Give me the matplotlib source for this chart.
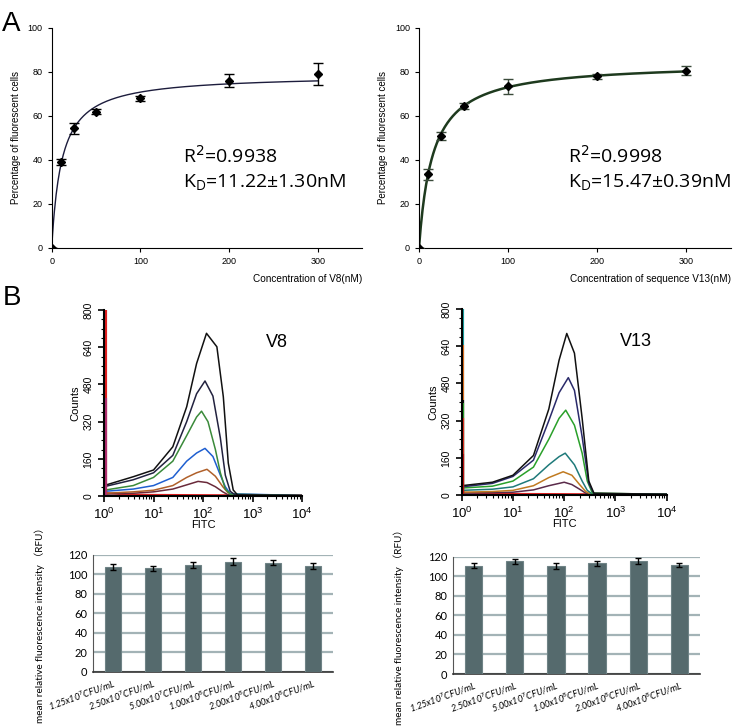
import numpy as np
import matplotlib
matplotlib.use("Agg")
import matplotlib.pyplot as plt
from matplotlib.ticker import MultipleLocator, LogLocator

plt.rcParams['font.family'] = ['Liberation Sans', 'DejaVu Sans']

###### Panel A data: binding saturation #####
conc = [0, 10, 25, 50, 100, 200, 300]
v8_pct = [0, 39, 54.5, 62, 68, 76, 79]
v8_err = [0, 1.5, 2.5, 1.0, 1.0, 3.0, 5.0]
v13_pct = [0, 33.5, 51, 64.5, 73.5, 78, 80.5]
v13_err = [0, 2.5, 1.8, 1.5, 3.5, 1.0, 2.0]
# fitted one-site binding parameters
v8_kd, v8_bmax = 11.22, 78.8
v13_kd, v13_bmax = 15.47, 84.4

###### Panel B data: flow cytometry histograms (log10 FITC, counts) #####
v8_curves = [
    ("#111111", [0, 0.59, 1.0, 1.39, 1.67, 1.87, 2.07, 2.28, 2.41, 2.51, 2.61, 2.7, 4.0],
                [45, 83, 112, 212, 384, 570, 700, 642, 427, 142, 26, 4, 2]),
    ("#22223f", [0, 0.59, 1.0, 1.39, 1.67, 1.87, 2.04, 2.2, 2.35, 2.45, 2.55, 2.65, 4.0],
                [40, 70, 100, 175, 320, 440, 495, 430, 250, 90, 20, 5, 2]),
    ("#3a8a3a", [0, 0.59, 1.0, 1.39, 1.67, 1.87, 1.97, 2.1, 2.25, 2.35, 2.45, 2.55, 4.0],
                [25, 45, 80, 150, 260, 340, 365, 320, 200, 100, 30, 8, 2]),
    ("#1f5fd0", [0, 0.59, 1.0, 1.39, 1.67, 1.87, 2.04, 2.2, 2.35, 2.45, 2.55, 4.0],
                [20, 30, 45, 80, 150, 185, 205, 170, 90, 40, 10, 2]),
    ("#b0602a", [0, 0.59, 1.0, 1.39, 1.67, 1.87, 2.08, 2.25, 2.4, 2.5, 2.6, 4.0],
                [12, 18, 25, 45, 80, 100, 115, 85, 40, 15, 5, 2]),
    ("#6a2a3a", [0, 0.59, 1.0, 1.39, 1.67, 1.9, 2.08, 2.25, 2.4, 2.5, 4.0],
                [8, 12, 18, 30, 48, 63, 58, 40, 18, 6, 2]),
    ("#e02020", [0, 0.3, 1.0, 2.0, 3.0, 4.0],
                [15, 8, 6, 5, 4, 3]),
]
v8_spikes = [(800, "#e02020"), (420, "#b03070")]

v13_curves = [
    ("#111111", [0, 0.6, 1.0, 1.4, 1.7, 1.9, 2.05, 2.2, 2.35, 2.48, 2.58, 4.0],
                [40, 55, 85, 170, 370, 580, 695, 610, 330, 60, 8, 3]),
    ("#2a2a6a", [0, 0.6, 1.0, 1.4, 1.7, 1.9, 2.08, 2.2, 2.35, 2.48, 2.58, 4.0],
                [35, 50, 80, 150, 320, 440, 505, 450, 250, 50, 5, 3]),
    ("#2aa02a", [0, 0.6, 1.0, 1.4, 1.7, 1.9, 2.03, 2.2, 2.35, 2.45, 2.55, 4.0],
                [30, 38, 60, 120, 240, 330, 365, 300, 180, 60, 8, 3]),
    ("#1f7a7a", [0, 0.6, 1.0, 1.4, 1.7, 1.9, 2.02, 2.2, 2.35, 2.45, 2.55, 4.0],
                [20, 25, 35, 70, 130, 165, 180, 130, 60, 20, 4, 3]),
    ("#c07a20", [0, 0.6, 1.0, 1.4, 1.7, 1.98, 2.15, 2.3, 2.42, 2.52, 4.0],
                [12, 15, 20, 40, 75, 100, 85, 45, 15, 3, 3]),
    ("#5a2a4a", [0, 0.6, 1.0, 1.4, 1.7, 2.0, 2.15, 2.3, 2.42, 2.52, 4.0],
                [8, 10, 12, 22, 40, 55, 45, 25, 8, 2, 2]),
    ("#e02020", [0, 0.3, 1.0, 2.0, 3.0, 4.0],
                [12, 8, 6, 5, 4, 3]),
]
v13_spikes = [(800, "#1aa0a0"), (645, "#e07020"), (410, "#111111"),
              (395, "#2aa02a"), (330, "#e03020"), (175, "#c01010")]

###### Panel B data: mean relative fluorescence intensity #####
cfu_labels = ["1.25x10$^7$CFU/mL", "2.50x10$^7$CFU/mL", "5.00x10$^7$CFU/mL",
              "1.00x10$^8$CFU/mL", "2.00x10$^8$CFU/mL", "4.00x10$^8$CFU/mL"]
v8_rfu = [108, 106.5, 110, 113, 112, 109]
v8_rfu_err = [3, 2.5, 3, 3.5, 2.5, 3]
v13_rfu = [111, 115.5, 110.5, 113.5, 115.5, 111.5]
v13_rfu_err = [2.5, 2.5, 3, 2.5, 3, 2.5]

fig = plt.figure(figsize=(7.56, 7.27), dpi=100)

# ---- A: binding curves ----
def binding_panel(rect, y, err, kd, bmax, line_color, err_color, lw, xlabel, r2, kd_txt, txt_x):
    ax = fig.add_axes(rect)
    xs = np.linspace(0, 300, 301)
    ax.plot(xs, bmax * xs / (kd + xs), color=line_color, lw=lw, zorder=2)
    ax.errorbar(conc, y, yerr=err, fmt="D", color="black", ms=4.5, ecolor=err_color,
                elinewidth=1, capsize=3.5, capthick=1, zorder=3)
    ax.set_xlim(0, 350)
    ax.set_ylim(0, 100)
    ax.set_xticks([0, 100, 200, 300])
    ax.set_yticks(range(0, 101, 20))
    ax.spines[["top", "right"]].set_visible(False)
    ax.tick_params(labelsize=6.5, length=3, width=0.8)
    ax.set_ylabel("Percentage of fluorescent cells", fontsize=7, labelpad=5)
    ax.text(1.0, -0.14, xlabel, transform=ax.transAxes, ha="right", va="center", fontsize=7.2)
    ax.text(txt_x, 38.5, r2, fontsize=14, family="Open Sans")
    ax.text(txt_x, 27.5, kd_txt, fontsize=14, family="Open Sans")
    return ax

binding_panel([0.0684, 0.6589, 0.4105, 0.3026], v8_pct, v8_err, v8_kd, v8_bmax,
              "#1c1c3c", "black", 1.0, "Concentration of V8(nM)",
              "R$^2$=0.9938", "K$_\\mathregular{D}$=11.22±1.30nM", 148)
binding_panel([0.5542, 0.6589, 0.4127, 0.3026], v13_pct, v13_err, v13_kd, v13_bmax,
              "#1e3a1e", "#3a4a3a", 1.8, "Concentration of sequence V13(nM)",
              "R$^2$=0.9998", "K$_\\mathregular{D}$=15.47±0.39nM", 167)

fig.text(0.003, 0.985, "A", fontsize=20, va="top")
fig.text(0.003, 0.608, "B", fontsize=20, va="top")

# ---- B: flow cytometry histograms ----
def hist_panel(rect, curves, spikes, name):
    ax = fig.add_axes(rect)
    for color, logx, counts in curves[::-1]:
        ax.plot(10 ** np.array(logx), counts, color=color, lw=1.1)
    for h, c in spikes:
        ax.plot([1.03, 1.03], [0, h], color=c, lw=3, solid_capstyle="butt")
    ax.set_xscale("log")
    ax.set_xlim(1, 1e4)
    ax.set_ylim(0, 800)
    ax.xaxis.set_major_locator(LogLocator(base=10, numticks=6))
    ax.xaxis.set_minor_locator(LogLocator(base=10, subs=np.arange(2, 10), numticks=12))
    ax.yaxis.set_major_locator(MultipleLocator(160))
    ax.yaxis.set_minor_locator(MultipleLocator(40))
    ax.spines[["top", "right"]].set_visible(False)
    ax.spines["left"].set_linewidth(1.5)
    ax.spines["bottom"].set_linewidth(1.5)
    ax.tick_params(which="major", length=4, width=1.2, labelsize=9.5)
    ax.tick_params(which="minor", length=2.5, width=0.8)
    ax.tick_params(axis="y", labelsize=7.5)
    for lab in ax.get_yticklabels():
        lab.set_rotation(90)
        lab.set_va("center")
    ax.set_ylabel("Counts", fontsize=8, labelpad=2)
    ax.set_xlabel("FITC", fontsize=8, labelpad=-1)
    ax.text(0.93, 0.8, name, transform=ax.transAxes, ha="right", fontsize=13)
    return ax

hist_panel([0.1376, 0.3177, 0.2619, 0.2558], v8_curves, v8_spikes, "V8")
hist_panel([0.6107, 0.3191, 0.2712, 0.2558], v13_curves, v13_spikes, "V13")

# ---- B: mean fluorescence bars ----
def bar_panel(rect, vals, errs):
    ax = fig.add_axes(rect)
    pos = np.arange(len(vals))
    ax.bar(pos, vals, width=0.42, color="#556a6d", edgecolor="#6f8386", lw=0.8, zorder=3)
    ax.errorbar(pos, vals, yerr=errs, fmt="none", ecolor="black", elinewidth=1,
                capsize=2.5, capthick=1, zorder=4)
    ax.set_xlim(-0.5, len(vals) - 0.5)
    ax.set_ylim(0, 120)
    ax.set_yticks(range(0, 121, 20))
    ax.yaxis.grid(True, color="#a3b3b6", lw=1.6, zorder=0)
    ax.set_axisbelow(True)
    ax.spines[["top", "right"]].set_visible(False)
    ax.spines["left"].set_color("#555555")
    ax.spines["bottom"].set_color("#333333")
    ax.spines["bottom"].set_linewidth(1.2)
    ax.tick_params(length=0, labelsize=8, pad=4)
    ax.set_xticks(pos)
    ax.set_xticklabels(cfu_labels, rotation=20, ha="right", rotation_mode="anchor",
                       fontsize=6.5, style="italic", family="Lato")
    for lab in ax.get_yticklabels():
        lab.set_family("Lato")
    ax.set_ylabel("mean relative fluorescence intensity （RFU）", fontsize=7.2,
                  family=["Lato", "Noto Sans CJK SC"])
    ax.yaxis.set_label_coords(-0.2, 0.42)
    return ax

bar_panel([0.1230, 0.0761, 0.3175, 0.1605], v8_rfu, v8_rfu_err)
bar_panel([0.5992, 0.0729, 0.3267, 0.1613], v13_rfu, v13_rfu_err)

fig.savefig("out.png", dpi=100)
